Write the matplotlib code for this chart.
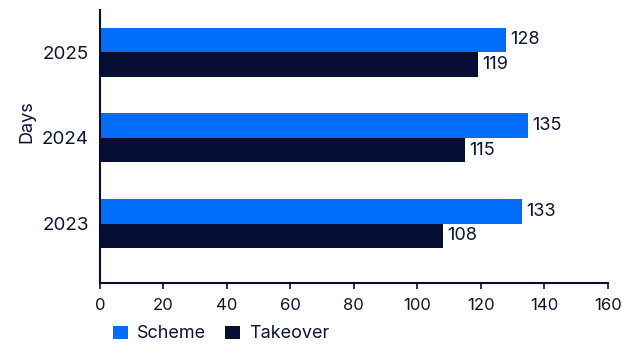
import matplotlib
matplotlib.use("Agg")
import matplotlib.pyplot as plt
import numpy as np

years = ["2023", "2024", "2025"]
scheme = [133, 135, 128]
takeover = [108, 115, 119]

BLUE = "#006CFA"
NAVY = "#060F33"
TEXT_COLOR = "#0B1533"

plt.rcParams["font.family"] = ["Inter", "DejaVu Sans"]
plt.rcParams["text.color"] = TEXT_COLOR

fig = plt.figure(figsize=(6.23, 3.45), dpi=100)
ax = fig.add_axes([0.1605, 0.18, 0.815, 0.791])

y = np.arange(len(years))
h = 0.285
bScheme = ax.barh(y + h / 2, scheme, height=h, color=BLUE, label="Scheme")
bTake = ax.barh(y - h / 2, takeover, height=h, color=NAVY, label="Takeover")

for bars in (bScheme, bTake):
    ax.bar_label(bars, padding=3, fontsize=13, color=TEXT_COLOR)

ax.set_xlim(0, 160)
ax.set_ylim(-0.69, 2.49)
ax.set_xticks(range(0, 161, 20))
ax.set_yticks(y)
ax.set_yticklabels(years)
ax.tick_params(axis="x", length=4, width=1.2, color=NAVY, labelsize=12,
               labelcolor=TEXT_COLOR, pad=7)
ax.tick_params(axis="y", length=0, labelsize=13.5, labelcolor=TEXT_COLOR, pad=8)
ax.set_ylabel("Days", fontsize=13, color=TEXT_COLOR)
ax.yaxis.set_label_coords(-0.128, 0.59)

for side in ("top", "right"):
    ax.spines[side].set_visible(False)
for side in ("left", "bottom"):
    ax.spines[side].set_color(NAVY)
    ax.spines[side].set_linewidth(1.5)

ax.legend(loc="center left", bbox_to_anchor=(0.025, -0.187), ncol=2, frameon=False,
          fontsize=13, handlelength=0.85, handleheight=0.75, handletextpad=0.5,
          columnspacing=1.05, borderaxespad=0, borderpad=0)

fig.savefig("out.png", dpi=100)
